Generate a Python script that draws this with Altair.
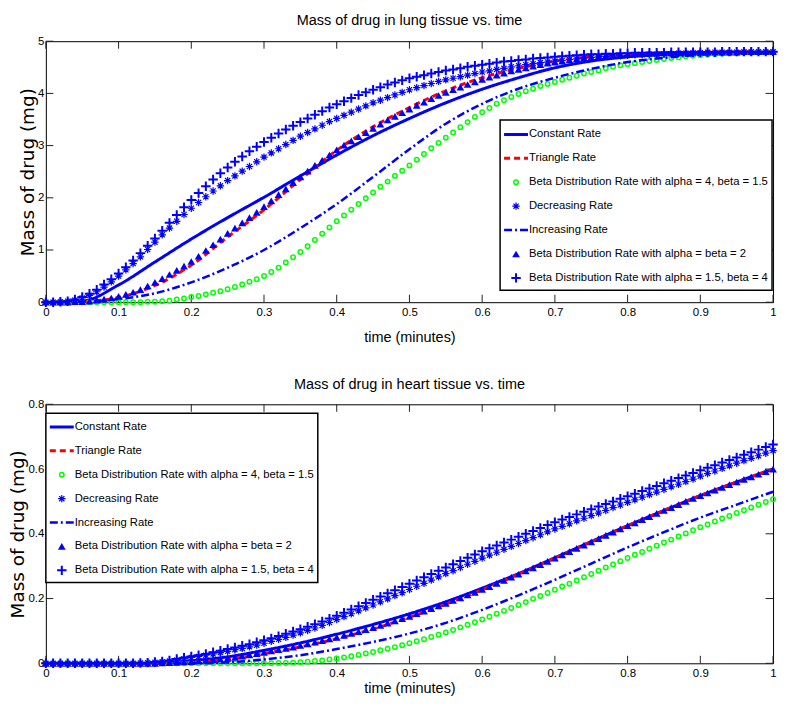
import altair as alt
import pandas as pd

# ---------------- data ----------------
T = [round(i * 0.01, 2) for i in range(101)]     # marker sample times
T5 = [round(i * 0.05, 2) for i in range(21)]     # line sample times
X_TICKS = [0, 0.1, 0.2, 0.3, 0.4, 0.5, 0.6, 0.7, 0.8, 0.9, 1]
LUNG_Y_TICKS = [0, 1, 2, 3, 4, 5]
HEART_Y_TICKS = [0, 0.2, 0.4, 0.6, 0.8]

LEGEND_LABELS = [
    "Constant Rate",
    "Triangle Rate",
    "Beta Distribution Rate with alpha = 4, beta = 1.5",
    "Decreasing Rate",
    "Increasing Rate",
    "Beta Distribution Rate with alpha = beta = 2",
    "Beta Distribution Rate with alpha = 1.5, beta = 4",
]

# Lung tissue (top)
LUNG_CONSTANT = [0.00, 0.02, 0.33, 0.77, 1.21, 1.62, 2.01, 2.42, 2.82, 3.19, 3.52,
                 3.82, 4.08, 4.30, 4.49, 4.62, 4.70, 4.75, 4.77, 4.79, 4.79]
LUNG_TRIANGLE = [0.00, 0.01, 0.09, 0.32, 0.71, 1.25, 1.77, 2.35, 2.91, 3.36, 3.73,
                 4.05, 4.30, 4.48, 4.62, 4.70, 4.75, 4.78, 4.79, 4.80, 4.80]
LUNG_INCREASING = [0.00, 0.01, 0.06, 0.17, 0.38, 0.66, 1.00, 1.42, 1.88, 2.40, 2.93,
                   3.42, 3.80, 4.09, 4.30, 4.47, 4.60, 4.68, 4.74, 4.78, 4.79]
LUNG_BETA_4_15 = [0, 0, 0, 0, 0, 0, 0, 0, 0, 0, 0,
                  0.00, 0.00, 0.00, 0.01, 0.01, 0.02, 0.03, 0.05, 0.07, 0.10,
                  0.12, 0.15, 0.18, 0.21, 0.25, 0.29, 0.34, 0.39, 0.44, 0.50,
                  0.58, 0.66, 0.76, 0.86, 0.96, 1.07, 1.19, 1.31, 1.43, 1.55,
                  1.66, 1.77, 1.88, 1.99, 2.10, 2.21, 2.31, 2.42, 2.52, 2.62,
                  2.73, 2.84, 2.95, 3.05, 3.15, 3.25, 3.35, 3.45, 3.55, 3.64,
                  3.72, 3.80, 3.87, 3.93, 3.99, 4.04, 4.09, 4.14, 4.18, 4.22,
                  4.26, 4.30, 4.34, 4.38, 4.41, 4.44, 4.48, 4.51, 4.54, 4.56,
                  4.58, 4.60, 4.62, 4.64, 4.66, 4.68, 4.69, 4.71, 4.72, 4.73,
                  4.74, 4.75, 4.76, 4.77, 4.77, 4.78, 4.78, 4.79, 4.79, 4.79]
LUNG_DECREASING = [0.00, 0.00, 0.01, 0.02, 0.04, 0.08, 0.13, 0.20, 0.29, 0.39, 0.50,
                   0.62, 0.74, 0.87, 1.01, 1.15, 1.29, 1.42, 1.55, 1.68, 1.80,
                   1.91, 2.02, 2.13, 2.23, 2.33, 2.42, 2.51, 2.60, 2.69, 2.78,
                   2.86, 2.94, 3.02, 3.10, 3.18, 3.25, 3.32, 3.39, 3.46, 3.52,
                   3.58, 3.64, 3.70, 3.76, 3.82, 3.87, 3.92, 3.97, 4.02, 4.07,
                   4.11, 4.15, 4.19, 4.23, 4.26, 4.29, 4.32, 4.35, 4.38, 4.41,
                   4.43, 4.46, 4.48, 4.51, 4.53, 4.55, 4.57, 4.59, 4.60, 4.62,
                   4.63, 4.65, 4.66, 4.68, 4.69, 4.70, 4.71, 4.72, 4.72, 4.73,
                   4.74, 4.74, 4.75, 4.75, 4.76, 4.76, 4.77, 4.77, 4.78, 4.78,
                   4.79, 4.79, 4.79, 4.79, 4.79, 4.80, 4.80, 4.80, 4.80, 4.80]
LUNG_BETA_2_2 = [0.00, 0.00, 0.00, 0.00, 0.01, 0.01, 0.02, 0.04, 0.06, 0.08, 0.11,
                 0.15, 0.19, 0.24, 0.31, 0.38, 0.45, 0.53, 0.61, 0.69, 0.78,
                 0.88, 0.99, 1.10, 1.21, 1.32, 1.42, 1.52, 1.62, 1.72, 1.83,
                 1.94, 2.06, 2.17, 2.29, 2.40, 2.51, 2.62, 2.72, 2.82, 2.92,
                 3.01, 3.09, 3.17, 3.25, 3.33, 3.41, 3.49, 3.56, 3.63, 3.70,
                 3.77, 3.83, 3.90, 3.96, 4.02, 4.07, 4.12, 4.17, 4.22, 4.27,
                 4.31, 4.35, 4.39, 4.43, 4.46, 4.49, 4.52, 4.55, 4.58, 4.60,
                 4.62, 4.64, 4.66, 4.68, 4.69, 4.71, 4.72, 4.73, 4.74, 4.75,
                 4.76, 4.76, 4.77, 4.77, 4.78, 4.78, 4.78, 4.79, 4.79, 4.79,
                 4.79, 4.79, 4.79, 4.79, 4.79, 4.80, 4.80, 4.80, 4.80, 4.80]
LUNG_BETA_15_4 = [0.00, 0.00, 0.01, 0.02, 0.05, 0.10, 0.16, 0.24, 0.34, 0.44, 0.55,
                  0.67, 0.80, 0.94, 1.08, 1.22, 1.37, 1.52, 1.67, 1.82, 1.96,
                  2.09, 2.22, 2.35, 2.47, 2.58, 2.69, 2.79, 2.89, 2.98, 3.07,
                  3.15, 3.23, 3.31, 3.38, 3.45, 3.52, 3.59, 3.66, 3.73, 3.79,
                  3.85, 3.91, 3.97, 4.02, 4.07, 4.12, 4.17, 4.21, 4.25, 4.29,
                  4.32, 4.35, 4.38, 4.41, 4.44, 4.46, 4.48, 4.51, 4.53, 4.55,
                  4.57, 4.59, 4.61, 4.62, 4.64, 4.65, 4.67, 4.68, 4.69, 4.70,
                  4.71, 4.72, 4.73, 4.74, 4.75, 4.75, 4.76, 4.76, 4.77, 4.77,
                  4.78, 4.78, 4.78, 4.78, 4.78, 4.79, 4.79, 4.79, 4.79, 4.79,
                  4.79, 4.79, 4.80, 4.80, 4.80, 4.80, 4.80, 4.80, 4.80, 4.80]

# Heart tissue (bottom)
HEART_CONSTANT = [0, 0, 0, 0.001, 0.008, 0.020, 0.040, 0.063, 0.090, 0.120, 0.153,
                  0.190, 0.232, 0.277, 0.326, 0.376, 0.425, 0.472, 0.518, 0.560, 0.600]
HEART_TRIANGLE = [0, 0, 0, 0, 0.003, 0.012, 0.030, 0.051, 0.076, 0.106, 0.142,
                  0.183, 0.227, 0.275, 0.325, 0.375, 0.425, 0.472, 0.518, 0.560, 0.600]
HEART_INCREASING = [0, 0, 0, 0, 0, 0.003, 0.012, 0.025, 0.044, 0.066, 0.092,
                    0.125, 0.165, 0.210, 0.258, 0.308, 0.358, 0.405, 0.450, 0.490, 0.530]
HEART_BETA_4_15 = [0, 0, 0, 0, 0, 0, 0, 0, 0, 0, 0,
                   0, 0, 0, 0, 0, 0, 0, 0, 0, 0,
                   0, 0, 0, 0, 0, 0, 0, 0, 0, 0,
                   0.000, 0.001, 0.001, 0.002, 0.003, 0.005, 0.007, 0.009, 0.012, 0.015,
                   0.018, 0.022, 0.026, 0.030, 0.035, 0.040, 0.045, 0.050, 0.056, 0.062,
                   0.068, 0.074, 0.081, 0.088, 0.095, 0.103, 0.111, 0.119, 0.127, 0.135,
                   0.144, 0.153, 0.162, 0.171, 0.180, 0.189, 0.199, 0.208, 0.217, 0.227,
                   0.237, 0.246, 0.256, 0.266, 0.276, 0.286, 0.296, 0.305, 0.315, 0.325,
                   0.335, 0.344, 0.354, 0.363, 0.373, 0.382, 0.392, 0.401, 0.411, 0.420,
                   0.429, 0.438, 0.447, 0.455, 0.464, 0.473, 0.481, 0.490, 0.498, 0.507]
HEART_DECREASING = [0, 0, 0, 0, 0, 0, 0, 0, 0, 0, 0,
                    0, 0, 0.001, 0.002, 0.003, 0.005, 0.007, 0.010, 0.014, 0.018,
                    0.021, 0.025, 0.029, 0.033, 0.037, 0.042, 0.046, 0.051, 0.056, 0.062,
                    0.068, 0.074, 0.080, 0.087, 0.094, 0.101, 0.109, 0.117, 0.126, 0.135,
                    0.144, 0.153, 0.162, 0.171, 0.180, 0.190, 0.199, 0.209, 0.218, 0.228,
                    0.238, 0.247, 0.257, 0.267, 0.277, 0.286, 0.296, 0.306, 0.315, 0.325,
                    0.334, 0.343, 0.352, 0.361, 0.370, 0.379, 0.388, 0.397, 0.406, 0.415,
                    0.423, 0.431, 0.440, 0.448, 0.456, 0.464, 0.472, 0.481, 0.489, 0.497,
                    0.505, 0.513, 0.521, 0.529, 0.537, 0.545, 0.553, 0.561, 0.569, 0.578,
                    0.586, 0.594, 0.602, 0.610, 0.618, 0.626, 0.633, 0.641, 0.649, 0.657]
HEART_BETA_2_2 = [0, 0, 0, 0, 0, 0, 0, 0, 0, 0, 0,
                  0, 0, 0, 0, 0, 0.001, 0.002, 0.003, 0.004, 0.005,
                  0.007, 0.009, 0.011, 0.013, 0.015, 0.018, 0.022, 0.026, 0.030, 0.034,
                  0.038, 0.042, 0.046, 0.050, 0.055, 0.060, 0.065, 0.070, 0.075, 0.080,
                  0.086, 0.092, 0.098, 0.104, 0.110, 0.117, 0.124, 0.131, 0.138, 0.145,
                  0.153, 0.161, 0.169, 0.177, 0.185, 0.194, 0.202, 0.211, 0.219, 0.228,
                  0.237, 0.247, 0.256, 0.266, 0.275, 0.285, 0.295, 0.305, 0.315, 0.325,
                  0.335, 0.345, 0.355, 0.365, 0.375, 0.385, 0.395, 0.405, 0.415, 0.425,
                  0.434, 0.444, 0.453, 0.463, 0.472, 0.481, 0.490, 0.500, 0.509, 0.518,
                  0.526, 0.535, 0.543, 0.552, 0.560, 0.568, 0.576, 0.584, 0.592, 0.600]
HEART_BETA_15_4 = [0, 0, 0, 0, 0, 0, 0, 0, 0, 0, 0,
                   0, 0, 0.001, 0.002, 0.004, 0.006, 0.009, 0.013, 0.017, 0.021,
                   0.025, 0.029, 0.034, 0.039, 0.044, 0.049, 0.054, 0.059, 0.065, 0.071,
                   0.077, 0.084, 0.091, 0.098, 0.105, 0.113, 0.121, 0.129, 0.138, 0.147,
                   0.156, 0.166, 0.176, 0.186, 0.196, 0.206, 0.216, 0.226, 0.236, 0.246,
                   0.256, 0.266, 0.276, 0.286, 0.296, 0.306, 0.316, 0.326, 0.336, 0.346,
                   0.355, 0.364, 0.373, 0.382, 0.391, 0.400, 0.409, 0.418, 0.427, 0.436,
                   0.444, 0.452, 0.460, 0.468, 0.476, 0.484, 0.492, 0.500, 0.508, 0.516,
                   0.524, 0.532, 0.540, 0.548, 0.556, 0.564, 0.572, 0.580, 0.588, 0.596,
                   0.604, 0.612, 0.620, 0.628, 0.636, 0.644, 0.652, 0.660, 0.668, 0.676]

# ---------------- styles ----------------
W = 730
BLUE, RED, GREEN = "#0000ff", "#ff0000", "#00ff00"
FONT = "Liberation Sans"
PLUS = "M-1,0L1,0M0,-1L0,1"
STAR = "M-1,0L1,0M0,-1L0,1M-0.7,-0.7L0.7,0.7M-0.7,0.7L0.7,-0.7"
TICK_LEN = 7.5

STYLES = [
    dict(kind="line", color=BLUE, width=3, dash=[1, 0]),
    dict(kind="line", color=RED, width=3, dash=[6, 4]),
    dict(kind="point", shape="circle", color=GREEN, size=20, filled=False, sw=1.5),
    dict(kind="point", shape=STAR, color=BLUE, size=55, filled=False, sw=1.2),
    dict(kind="line", color=BLUE, width=2.5, dash=[8, 3, 2, 3]),
    dict(kind="point", shape="triangle-up", color=BLUE, size=60, filled=True, sw=0),
    dict(kind="point", shape=PLUS, color=BLUE, size=90, filled=False, sw=2),
]


def x_axis(title_pad):
    return alt.Axis(values=X_TICKS, format="~g", labelFlush=False, ticks=False,
                    domain=False, grid=False, labelFont=FONT, labelFontSize=11.5,
                    labelColor="black", labelPadding=4, titleFont=FONT,
                    titleFontSize=14.5, titleFontWeight="normal", titleColor="black",
                    titlePadding=title_pad)


def y_axis(ticks):
    return alt.Axis(values=ticks, format="~g", labelFlush=False, ticks=False,
                    domain=False, grid=False, labelFont=FONT, labelFontSize=11.5,
                    labelColor="black", labelPadding=2, titleFont="DejaVu Sans",
                    titleFontSize=18.5, titleFontWeight="normal", titleColor="black",
                    titlePadding=0)


def panel(title, ymax, yticks, lines, markers, height, leg, title_offset, xtitle_pad):
    xs = alt.Scale(domain=[0, 1], nice=False, zero=False)
    ys = alt.Scale(domain=[0, ymax], nice=False, zero=True)

    def X(f):
        return alt.X(f, type="quantitative", scale=xs, axis=x_axis(xtitle_pad),
                     title="time (minutes)")

    def Y(f):
        return alt.Y(f, type="quantitative", scale=ys, axis=y_axis(yticks),
                     title="Mass of drug (mg)")

    layers = []
    xt = pd.DataFrame({"t": X_TICKS})
    yt = pd.DataFrame({"v": yticks})
    tick_style = dict(color="#222222", strokeWidth=1)
    layers.append(alt.Chart(xt).mark_rule(**tick_style).encode(
        x=X("t"), y=alt.value(height), y2=alt.value(height - TICK_LEN)))
    layers.append(alt.Chart(xt).mark_rule(**tick_style).encode(
        x=X("t"), y=alt.value(0), y2=alt.value(TICK_LEN)))
    layers.append(alt.Chart(yt).mark_rule(**tick_style).encode(
        y=Y("v"), x=alt.value(0), x2=alt.value(TICK_LEN)))
    layers.append(alt.Chart(yt).mark_rule(**tick_style).encode(
        y=Y("v"), x=alt.value(W - TICK_LEN), x2=alt.value(W)))

    series = [lines[0], lines[1], markers[0], markers[1], lines[2], markers[2], markers[3]]
    for st, vals in zip(STYLES, series):
        if st["kind"] == "line":
            df = pd.DataFrame({"t": T5, "v": vals})
            m = alt.Chart(df).mark_line(color=st["color"], strokeWidth=st["width"],
                                        strokeDash=st["dash"], interpolate="monotone",
                                        clip=False)
        else:
            df = pd.DataFrame({"t": T, "v": vals})
            m = alt.Chart(df).mark_point(shape=st["shape"], size=st["size"],
                                         filled=st["filled"], color=st["color"],
                                         strokeWidth=st["sw"], opacity=1, clip=False)
        layers.append(m.encode(x=X("t"), y=Y("v")))

    # legend
    bx0, by0, bx1, by1 = leg["box"]
    one = pd.DataFrame({"k": [0]})
    layers.append(alt.Chart(one).mark_rect(fill="white", stroke="black", strokeWidth=1.5).encode(
        x=alt.value(bx0), x2=alt.value(bx1), y=alt.value(by0), y2=alt.value(by1)))
    for i, (lab, st) in enumerate(zip(LEGEND_LABELS, STYLES)):
        yc = leg["row0"] + leg["dy"] * i
        if st["kind"] == "line":
            layers.append(alt.Chart(one).mark_rule(color=st["color"], strokeWidth=st["width"],
                                                   strokeDash=st["dash"]).encode(
                x=alt.value(bx0 + 4), x2=alt.value(bx0 + 28), y=alt.value(yc)))
        else:
            layers.append(alt.Chart(one).mark_point(shape=st["shape"], size=st["size"],
                                                    filled=st["filled"], color=st["color"],
                                                    strokeWidth=st["sw"], opacity=1).encode(
                x=alt.value(bx0 + 16), y=alt.value(yc)))
        layers.append(alt.Chart(pd.DataFrame({"label": [lab]})).mark_text(
            align="left", baseline="middle", font=FONT, fontSize=11.3, color="black").encode(
            x=alt.value(bx0 + 29), y=alt.value(yc), text="label:N"))

    return alt.layer(*layers).properties(
        width=W, height=height,
        title=alt.TitleParams(title, font=FONT, fontSize=14.5, fontWeight="normal",
                              color="black", anchor="middle", offset=title_offset))


top = panel("Mass of drug in lung tissue vs. time", 5, LUNG_Y_TICKS,
            [LUNG_CONSTANT, LUNG_TRIANGLE, LUNG_INCREASING],
            [LUNG_BETA_4_15, LUNG_DECREASING, LUNG_BETA_2_2, LUNG_BETA_15_4], 262,
            dict(box=(W - 274, 79, W - 1, 250), row0=93.6, dy=24), 7, 12.5)
bottom = panel("Mass of drug in heart tissue vs. time", 0.8, HEART_Y_TICKS,
               [HEART_CONSTANT, HEART_TRIANGLE, HEART_INCREASING],
               [HEART_BETA_4_15, HEART_DECREASING, HEART_BETA_2_2, HEART_BETA_15_4], 260,
               dict(box=(0, 9, 273, 179), row0=22.7, dy=24), 6, 2.6)

chart = alt.vconcat(top, bottom, spacing=32.5).properties(
    padding={"left": 0, "top": 3, "right": 0, "bottom": 0},
    background="white",
).configure_view(stroke="black", strokeWidth=1)

chart.save("out.html", embed_options={"renderer": "svg", "actions": False})
